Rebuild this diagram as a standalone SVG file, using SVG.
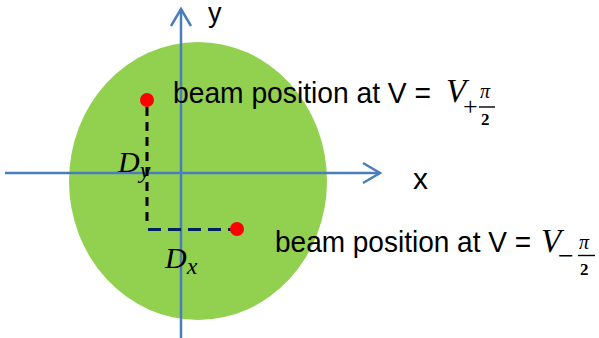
<svg xmlns="http://www.w3.org/2000/svg" width="599" height="338" viewBox="0 0 599 338">
<style>
.axis{stroke:#4A7EBB;stroke-width:2.5;fill:none}
.lbl{font-family:"Liberation Sans",Arial,sans-serif;fill:#000}
.math{font-family:"Liberation Serif","DejaVu Serif",serif;font-style:italic;fill:#000}
.mathn{font-family:"Liberation Serif","DejaVu Serif",serif;font-style:normal;fill:#000}
.dot{fill:#FF0000}
</style>
<rect width="599" height="338" fill="#fff"/>
<g id="disk"><ellipse cx="198" cy="181" rx="129" ry="139" fill="#92D050"/></g>
<g id="connectors">
<line class="axis" x1="181" y1="338" x2="181" y2="9"/>
<polyline class="axis" points="171,26 181,9 191,26"/>
<line class="axis" x1="5" y1="173" x2="380" y2="173"/>
<polyline class="axis" points="363,163 380,173 363,183"/>
<line x1="147" y1="107" x2="147" y2="224" stroke="#000" stroke-width="3" stroke-dasharray="9,6"/>
<line x1="148" y1="229.5" x2="232" y2="229.5" stroke="#002060" stroke-width="3" stroke-dasharray="13,7"/>
</g>
<g id="axis-labels">
<text class="lbl" x="208" y="22" font-size="27">y</text>
<text class="lbl" x="413" y="189" font-size="30">x</text>
</g>
<g id="point-top">
<circle class="dot" cx="147" cy="100" r="7"/>
<text class="lbl" x="173" y="102.5" font-size="30"><tspan textLength="258" lengthAdjust="spacingAndGlyphs">beam position at V =</tspan><tspan class="math" x="446" y="102" font-size="33">V</tspan><tspan class="mathn" x="463" y="115" font-size="26">+</tspan></text>
<text class="math" x="480" y="98" font-size="20">π</text>
<line x1="479" y1="107" x2="495" y2="107" stroke="#000" stroke-width="1.4"/>
<text class="mathn" x="481" y="125" font-size="17" font-weight="bold">2</text>
</g>
<g id="point-bottom">
<circle class="dot" cx="237" cy="229" r="7"/>
<text class="lbl" x="275" y="252" font-size="30"><tspan textLength="256" lengthAdjust="spacingAndGlyphs">beam position at V =</tspan><tspan class="math" x="541" y="252" font-size="33">V</tspan><tspan class="mathn" x="558" y="265" font-size="28">−</tspan></text>
<text class="math" x="579" y="249" font-size="20">π</text>
<line x1="578" y1="255.5" x2="595" y2="255.5" stroke="#000" stroke-width="1.4"/>
<text class="mathn" x="580" y="275" font-size="17" font-weight="bold">2</text>
</g>
<g id="labels-d">
<text class="math" x="118" y="172" font-size="30">D<tspan font-size="24" dy="6">y</tspan></text>
<text class="math" x="165" y="268" font-size="30">D<tspan font-size="24" dy="6">x</tspan></text>
</g>
</svg>
